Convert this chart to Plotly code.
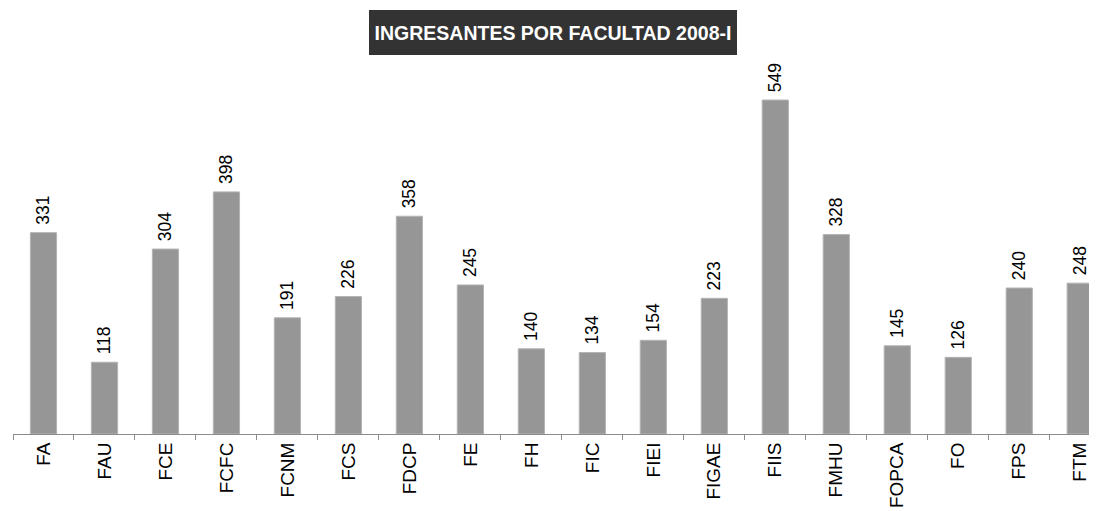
import plotly.graph_objects as go

categories = ["FA", "FAU", "FCE", "FCFC", "FCNM", "FCS", "FDCP", "FE", "FH", "FIC",
              "FIEI", "FIGAE", "FIIS", "FMHU", "FOPCA", "FO", "FPS", "FTM"]
values = [331, 118, 304, 398, 191, 226, 358, 245, 140, 134,
          154, 223, 549, 328, 145, 126, 240, 248]
title_text = "INGRESANTES POR FACULTAD 2008-I"

FONT = "Arial, Liberation Sans, sans-serif"

fig = go.Figure()
fig.add_trace(go.Bar(
    x=categories,
    y=values,
    marker=dict(color="#969696", line=dict(color="#b4b4b4", width=1)),
    text=["\u00a0" + str(v) for v in values],
    textposition="outside",
    textangle=-90,
    constraintext="none",
    textfont=dict(family=FONT, size=17.5, color="#000000"),
    cliponaxis=False,
    hoverinfo="x+y",
))

fig.update_layout(
    width=1097,
    height=511,
    margin=dict(l=5, r=8, t=61, b=85),
    paper_bgcolor="white",
    plot_bgcolor="white",
    bargap=0.57,
    showlegend=False,
    font=dict(family=FONT, color="#000000"),
    xaxis=dict(
        type="category",
        showline=True,
        linecolor="#8c8c8c",
        linewidth=1,
        ticks="outside",
        tickson="boundaries",
        ticklen=5,
        tickcolor="#8c8c8c",
        tickangle=-90,
        tickfont=dict(family=FONT, size=19, color="#000000"),
        showgrid=False,
        automargin=False,
        range=[-0.5, 17.275],
    ),
    yaxis=dict(
        range=[0, 600],
        visible=False,
        showgrid=False,
        zeroline=False,
    ),
    annotations=[dict(
        text="<b>" + title_text + "</b>",
        xref="paper", yref="paper",
        x=(553 - 8 - 5) / (1097 - 5 - 8), y=1.1,
        xanchor="center", yanchor="middle",
        showarrow=False,
        font=dict(family=FONT, size=19.5, color="#ffffff"),
        bgcolor="#333333",
        width=360, height=37,
        borderpad=4,
        borderwidth=0,
    )],
)

fig.write_html("out.html")
